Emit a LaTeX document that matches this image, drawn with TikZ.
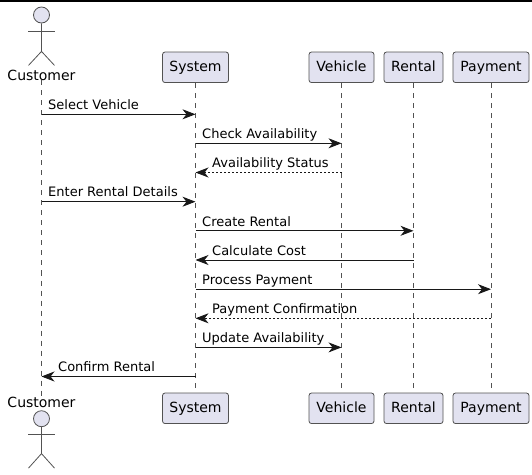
\documentclass[tikz,border=0pt]{standalone}
\usepackage{fontspec}
\setmainfont{DejaVu Sans}
\usetikzlibrary{arrows.meta}
\definecolor{pfill}{HTML}{E2E2F0}
\definecolor{pline}{HTML}{181818}
\tikzset{
  x=1pt,y=-1pt,
  partbox/.style={draw=pline!75,line width=0.8pt,fill=pfill,rounded corners=2.5pt,minimum height=30.5pt,inner sep=0pt,font=\fontsize{14}{16}\selectfont,text=black,anchor=center,text height=10.5pt,text depth=3pt},
  lifeline/.style={draw=pline!75,line width=0.6pt,dash pattern=on 5pt off 5pt},
  msg/.style={draw=pline,line width=0.9pt,-{Stealth[length=13pt,width=10pt,inset=4pt]}},
  ret/.style={msg,dash pattern=on 2pt off 2pt},
  lbl/.style={anchor=base west,inner sep=0pt,font=\fontsize{13}{15}\selectfont,text=black},
  actorline/.style={draw=pline!75,line width=0.8pt},
  actorhead/.style={draw=pline!75,line width=0.8pt,fill=pfill,circle,minimum size=16pt,inner sep=0pt},
  actorname/.style={inner sep=0pt,font=\fontsize{14}{16}\selectfont,text=black},
}
\begin{document}
\begin{tikzpicture}
\useasboundingbox (0,0) rectangle (532,474);
\fill[black] (0,0) rectangle (532,2);
% actor heads and names
\node[actorname] (custT) at (41.5,75) {Customer};
\node[actorname] (custB) at (41.5,402) {Customer};
% lifelines (drawn between named anchors at each end)
\coordinate (sysLT) at (195.5,83);
\coordinate (vehLT) at (341.5,83);
\coordinate (renLT) at (413.5,83);
\coordinate (payLT) at (491,83);
\draw[lifeline] (custT.south) -- (custB.north);
\draw[lifeline] (sysLT) -- (sysLT |- custB.north);
\draw[lifeline] (vehLT) -- (vehLT |- custB.north);
\draw[lifeline] (renLT) -- (renLT |- custB.north);
\draw[lifeline] (payLT) -- (payLT |- custB.north);
% top and bottom boxes
\node[partbox,minimum width=66pt] (sysT) at (195.5,67.3) {System};
\node[partbox,minimum width=65pt] (vehT) at (341.5,67.3) {Vehicle};
\node[partbox,minimum width=59pt] (renT) at (413.5,67.3) {Rental};
\node[partbox,minimum width=76pt] (payT) at (491,67.3) {Payment};
\node[partbox,minimum width=66pt] (sysB) at (195.5,408.3) {System};
\node[partbox,minimum width=65pt] (vehB) at (341.5,408.3) {Vehicle};
\node[partbox,minimum width=59pt] (renB) at (413.5,408.3) {Rental};
\node[partbox,minimum width=76pt] (payB) at (491,408.3) {Payment};
% actors
\node[actorhead] (headT) at (41.5,15) {};
\draw[actorline] (headT.south) -- ++(0,28) -- ++(-13,14) ++(13,-14) -- ++(13,14);
\draw[actorline] (28,31.5) -- (55,31.5);
\node[actorhead] (headB) at (41.5,418.7) {};
\draw[actorline] (headB.south) -- ++(0,26.5) -- ++(-13,14.5) ++(13,-14.5) -- ++(13,14.5);
\draw[actorline] (28,434.3) -- (55,434.3);
% row coordinates
\coordinate (r1) at (0,114.3);
\coordinate (r2) at (0,143.3);
\coordinate (r3) at (0,172.5);
\coordinate (r4) at (0,201.7);
\coordinate (r5) at (0,230.8);
\coordinate (r6) at (0,260);
\coordinate (r7) at (0,289.2);
\coordinate (r8) at (0,318.3);
\coordinate (r9) at (0,347.4);
\coordinate (r10) at (0,376.5);
% messages
\draw[msg] (custT |- r1) -- (sysT |- r1);
\draw[msg] (sysT |- r2) -- (vehT |- r2);
\draw[ret] (vehT |- r3) -- (sysT |- r3);
\draw[msg] (custT |- r4) -- (sysT |- r4);
\draw[msg] (sysT |- r5) -- (renT |- r5);
\draw[msg] (renT |- r6) -- (sysT |- r6);
\draw[msg] (sysT |- r7) -- (payT |- r7);
\draw[ret] (payT |- r8) -- (sysT |- r8);
\draw[msg] (sysT |- r9) -- (vehT |- r9);
\draw[msg] (sysT |- r10) -- (custT |- r10);
% labels
\node[lbl] (l1) at (48,109.2) {Select Vehicle};
\node[lbl] (l2) at (202,138.2) {Check Availability};
\node[lbl] (l3) at (212,167.4) {Availability Status};
\node[lbl] (l4) at (48,196.9) {Enter Rental Details};
\node[lbl] (l5) at (202,226) {Create Rental};
\node[lbl] (l6) at (212,255.2) {Calculate Cost};
\node[lbl] (l7) at (202,284.4) {Process Payment};
\node[lbl] (l8) at (212,313.5) {Payment Confirmation};
\node[lbl] (l9) at (202,342.4) {Update Availability};
\node[lbl] (l10) at (58,371.7) {Confirm Rental};
\end{tikzpicture}
\end{document}
